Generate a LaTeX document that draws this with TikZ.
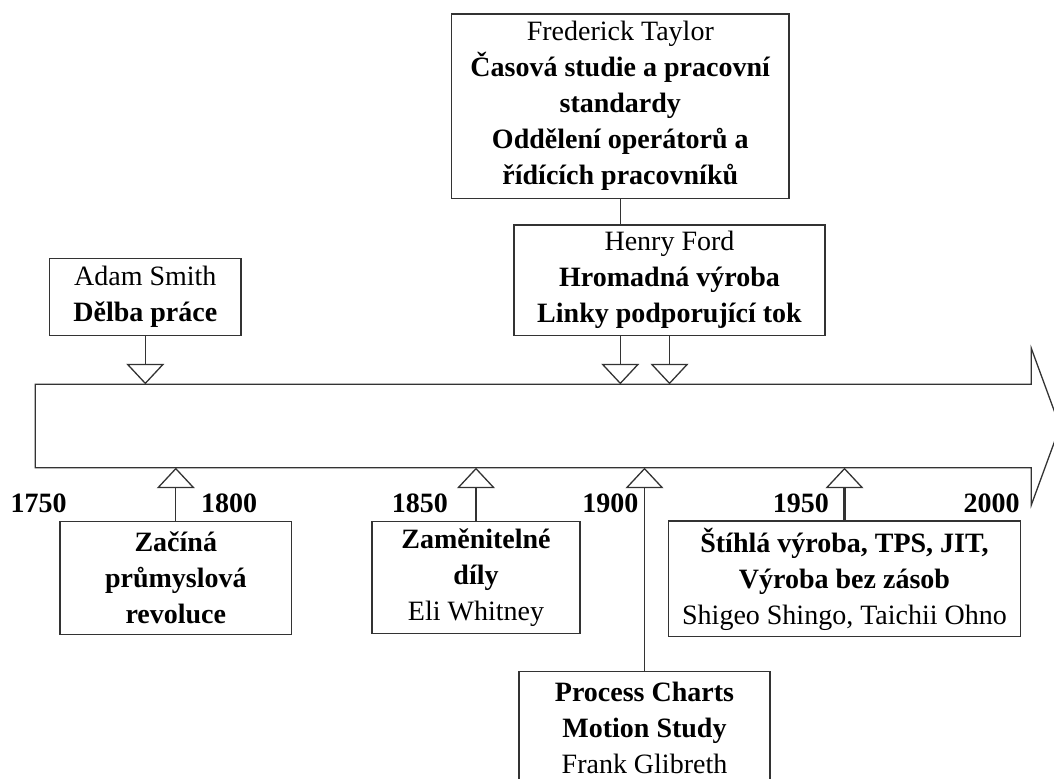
\documentclass[tikz,border=0pt]{standalone}
\usepackage{fontspec}
\setmainfont{Liberation Serif}
\usepackage{tikz}
\usetikzlibrary{arrows.meta, calc}

\tikzset{
  box/.style={draw=black!80, line width=0.65pt, align=center, inner sep=0pt,
    font=\fontsize{14}{18}\selectfont},
  yearlbl/.style={font=\fontsize{14}{18}\selectfont\bfseries, inner sep=0pt},
  tri/.style={draw=black!80, line width=0.65pt,
    -{Triangle[open, width=19pt, length=10.25pt, line width=0.65pt]}}
}

\begin{document}
\begin{tikzpicture}[x=0.5pt, y=-0.5pt]
\useasboundingbox (0,0) rectangle (1054,778);
\clip (0,0) rectangle (1054,778);

% time axis
\draw[draw=black!80, line width=0.65pt] (35.3,384.3) coordinate (axtop)
  -- (1031.3,384.3) -- (1031.3,348.3) -- (1060,426.6) -- (1031.3,505)
  -- (1031.3,467.7) -- (35.3,467.7) coordinate (axbot) -- cycle;

% above the axis
\node[box, minimum width=95.7pt, minimum height=38.5pt] (smith) at (145.3,296.8)
  {Adam Smith\\ \textbf{Dělba práce}};
\node[box, minimum width=168.7pt, minimum height=92.2pt] (taylor) at (620.3,106.2)
  {Frederick Taylor\\ \textbf{Časová studie a pracovní}\\ \textbf{standardy}\\
   \textbf{Oddělení operátorů a}\\ \textbf{řídících pracovníků}};
\node[box, minimum width=155.5pt, minimum height=55.2pt] (ford) at (669.5,280.2)
  {Henry Ford\\ \textbf{Hromadná výroba}\\ \textbf{Linky podporující tok}};

% below the axis
\node[box, minimum width=115.9pt, minimum height=56.5pt] (revol) at (175.8,578.2)
  {\textbf{Začíná}\\ \textbf{průmyslová}\\ \textbf{revoluce}};
\node[box, minimum width=103.9pt, minimum height=56pt] (dily) at (476,577.4)
  {\textbf{Zaměnitelné}\\ \textbf{díly}\\ Eli Whitney};
\node[box, minimum width=176.2pt, minimum height=57.9pt] (lean) at (844.5,578.9)
  {\textbf{Štíhlá výroba, TPS, JIT,}\\ \textbf{Výroba bez zásob}\\ Shigeo Shingo, Taichii Ohno};
\node[box, minimum width=125.5pt, minimum height=56.5pt] (gilb) at (644.5,728.2)
  {\textbf{Process Charts}\\ \textbf{Motion Study}\\ Frank Glibreth};

% years
\node[yearlbl] (y1750) at (38.7,503.5) {1750};
\node[yearlbl] (y1800) at (229.2,503.5) {1800};
\node[yearlbl] (y1850) at (419.8,503.5) {1850};
\node[yearlbl] (y1900) at (610.3,503.5) {1900};
\node[yearlbl] (y1950) at (800.9,503.5) {1950};
\node[yearlbl] (y2000) at (991.5,503.5) {2000};

% connectors
\draw[draw=black!80, line width=0.65pt] (taylor.south) -- (taylor.south |- ford.north);
\draw[tri] (smith.south) -- (smith.south |- axtop);
\draw[tri] (taylor.south |- ford.south) -- (taylor.south |- axtop);
\draw[tri] (ford.south) -- (ford.south |- axtop);
\draw[tri] (revol.north) -- (revol.north |- axbot);
\draw[tri] (dily.north) -- (dily.north |- axbot);
\draw[tri] (gilb.north) -- (gilb.north |- axbot);
\draw[tri, line width=1.1pt] (lean.north) -- (lean.north |- axbot);
\end{tikzpicture}
\end{document}
